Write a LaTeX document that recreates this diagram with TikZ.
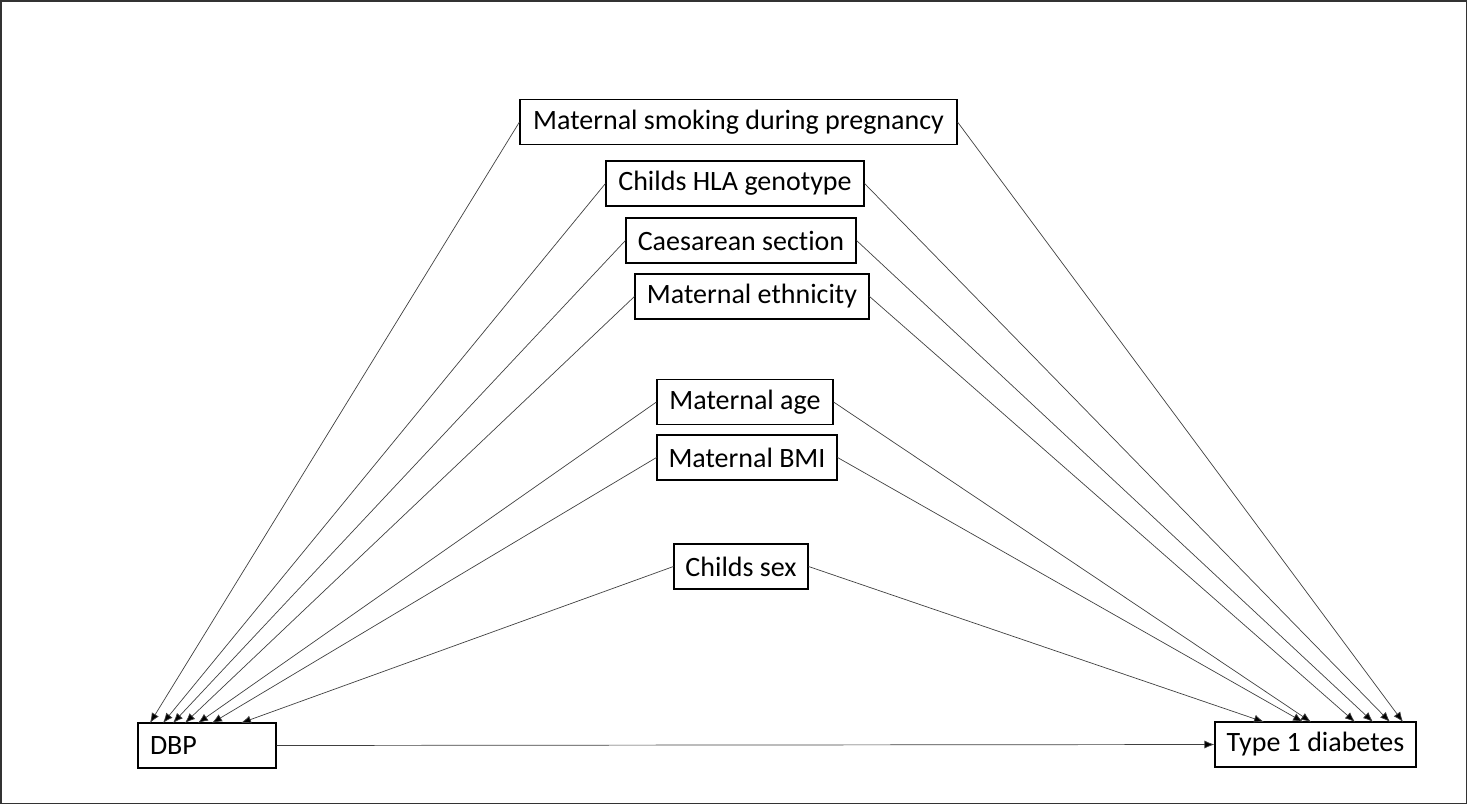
\documentclass[tikz,border=0pt]{standalone}
\usepackage{fontspec}
\setmainfont{Carlito}[Ligatures=NoCommon]
\usetikzlibrary{arrows.meta}
\begin{document}
\begin{tikzpicture}[x=1pt,y=-1pt,
  box/.style={draw=black,line width=1.1pt,inner sep=0pt,minimum height=45pt,font=\fontsize{28}{32}\selectfont},
  conn/.style={draw=black!75,line width=0.7pt,-{Latex[length=10pt,width=8pt,fill=black]}}]
\useasboundingbox (0,0) rectangle (1468,805);
\draw[line width=1.5pt,black!80] (1,1) rectangle (1466.5,803.5);
\node[box,minimum width=437pt] (smk) at (738.5,122) {Maternal smoking during pregnancy};
\node[box,minimum width=258pt] (hla) at (735,183.5) {Childs HLA genotype};
\node[box,minimum width=230pt] (cs) at (741,240.5) {Caesarean section};
\node[box,minimum width=234pt] (eth) at (752,296.5) {Maternal ethnicity};
\node[box,minimum width=176pt] (age) at (745,402) {Maternal age};
\node[box,minimum width=180pt] (bmi) at (747,457.5) {Maternal BMI};
\node[box,minimum width=134pt] (sex) at (741,566.5) {Childs sex};
\node[box,minimum width=138pt,text width=114pt,align=left,inner xsep=12pt] (dbp) at (207,745.5) {DBP};
\node[box,minimum width=201pt] (t1d) at (1315.5,744.5) {Type 1 diabetes};
\coordinate (d1) at (150,723);
\coordinate (d2) at (163,723);
\coordinate (d3) at (173,723);
\coordinate (d4) at (185,723);
\coordinate (d5) at (198,723);
\coordinate (d6) at (212,723);
\coordinate (d7) at (241,723);
\coordinate (t1) at (1403,722);
\coordinate (t2) at (1390,722);
\coordinate (t3) at (1373,722);
\coordinate (t4) at (1355,722);
\coordinate (t5) at (1311,722);
\coordinate (t6) at (1303,722);
\coordinate (t7) at (1264,722);
\draw[conn] (smk.west) -- (d1);
\draw[conn] (hla.west) -- (d2);
\draw[conn] (cs.west) -- (d3);
\draw[conn] (eth.west) -- (d4);
\draw[conn] (age.west) -- (d5);
\draw[conn] (bmi.west) -- (d6);
\draw[conn] (sex.west) -- (d7);
\draw[conn] (smk.east) -- (t1);
\draw[conn] (hla.east) -- (t2);
\draw[conn] (cs.east) -- (t3);
\draw[conn] (eth.east) -- (t4);
\draw[conn] (age.east) -- (t5);
\draw[conn] (bmi.east) -- (t6);
\draw[conn] (sex.east) -- (t7);
\draw[conn] (dbp.east) -- (t1d.west);
\end{tikzpicture}
\end{document}
